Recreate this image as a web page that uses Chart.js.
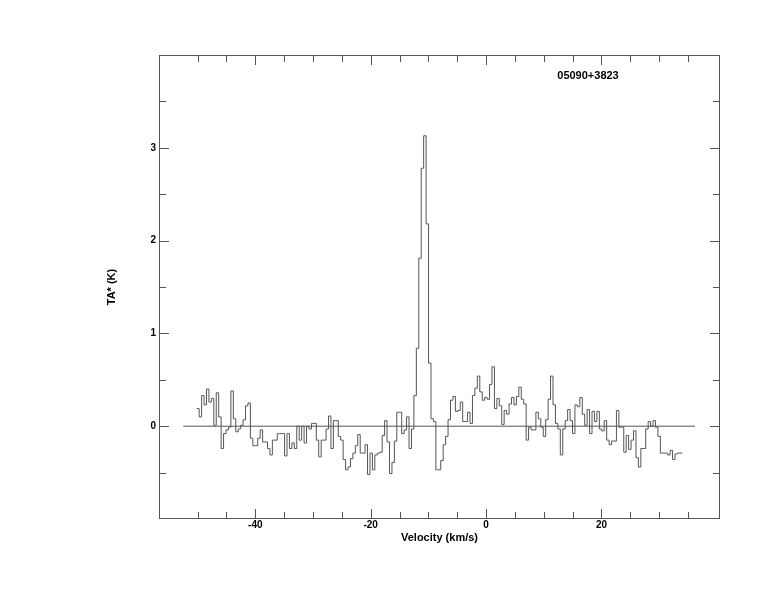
<!DOCTYPE html>
<html>
<head>
<meta charset="utf-8">
<script src="https://cdn.jsdelivr.net/npm/chart.js@4.4.1/dist/chart.umd.min.js"></script>
<style>
    html, body { margin: 0; padding: 0; background: #fff; }
    #wrap { width: 774px; height: 612px; position: relative; }
</style>
</head>
<body>
<div id="wrap"><canvas id="myChart_spec"></canvas></div>
<script>
var sourceName = "05090+3823";
var xTitle = "Velocity (km/s)";
var yTitle = "TA* (K)";

// channel grid, km/s (left edge of first channel, channel width)
var velStart = -50.16;
var velStep = 0.423;

// TA* per channel, K
var taValues = [
    0.19, 0.10, 0.33, 0.23, 0.40, 0.26, 0.30, 0.01, 0.36, 0.10,
    -0.24, -0.08, -0.04, -0.01, 0.38, 0.08, -0.06, -0.03, 0.01, 0.07,
    0.22, 0.25, -0.13, -0.21, -0.21, -0.13, -0.04, -0.17, -0.17, -0.24,
    -0.31, -0.15, -0.15, -0.08, -0.08, -0.08, -0.32, -0.08, -0.24, -0.18,
    -0.24, 0.00, -0.15, 0.00, -0.18, 0.00, -0.03, 0.03, 0.03, -0.15,
    -0.33, -0.15, -0.15, -0.03, 0.11, -0.24, 0.06, 0.06, -0.11, -0.15,
    -0.36, -0.47, -0.44, -0.35, -0.29, -0.21, -0.09, -0.29, -0.29, -0.20,
    -0.52, -0.29, -0.47, -0.31, -0.29, -0.28, -0.10, 0.06, -0.17, -0.51,
    -0.39, -0.16, 0.15, 0.15, -0.08, -0.04, 0.10, -0.24, -0.03, 0.33,
    0.84, 1.81, 2.78, 3.13, 2.18, 0.68, 0.08, 0.05, -0.47, -0.47,
    -0.37, -0.20, -0.11, 0.07, 0.28, 0.32, 0.16, 0.17, 0.26, 0.05,
    0.05, 0.15, 0.03, 0.33, 0.41, 0.54, 0.37, 0.28, 0.31, 0.29,
    0.45, 0.64, 0.19, 0.30, 0.22, 0.02, 0.17, 0.13, 0.24, 0.31,
    0.23, 0.32, 0.42, 0.29, 0.24, -0.15, -0.01, -0.04, -0.04, 0.15,
    0.08, -0.01, -0.11, 0.07, 0.29, 0.54, 0.23, 0.03, -0.03, -0.31,
    -0.03, 0.06, 0.18, 0.06, -0.08, 0.23, 0.21, 0.31, 0.13, 0.01,
    0.18, -0.08, 0.16, 0.05, 0.16, -0.03, -0.05, 0.06, -0.15, -0.20,
    -0.16, -0.16, 0.17, -0.01, -0.01, -0.28, -0.10, -0.25, -0.15, -0.05,
    -0.34, -0.44, -0.24, -0.24, -0.03, 0.05, 0.00, 0.06, -0.01, -0.11,
    -0.29, -0.29, -0.29, -0.31, -0.26, -0.36, -0.30, -0.29, -0.29
];

// zero baseline
var baseX = [-52.5, 36.2];
var baseY = [0, 0];

// axes
var xMin = -56.7, xMax = 40.55;
var yMin = -1, yMax = 4;
var xTickFirst = -50, xTickLast = 35, xTickStep = 5;
var yTickFirst = -0.5, yTickLast = 3.5, yTickStep = 0.5;
var xLabelTicks = [-40, -20, 0, 20];
var yLabelTicks = [0, 1, 2, 3];

var lineColor = "#555555";
var fontFamily = "'Liberation Sans', Arial, Helvetica, sans-serif";

var specPoints = taValues.map(function (t, i) {
    return { x: velStart + i * velStep, y: t };
});
// close the last channel
specPoints.push({ x: velStart + taValues.length * velStep, y: taValues[taValues.length - 1] });

var basePoints = baseX.map(function (x, i) {
    return { x: x, y: baseY[i] };
});

var frameTicks = {
    id: "frameTicks",
    afterDraw: function (chart) {
        var ctx = chart.ctx;
        var a = chart.chartArea;
        var xs = chart.scales.x;
        var ys = chart.scales.y;
        ctx.save();
        ctx.strokeStyle = lineColor;
        ctx.lineWidth = 1;
        ctx.strokeRect(a.left + 0.5, a.top + 0.5, a.right - a.left - 1, a.bottom - a.top - 1);
        ctx.beginPath();
        xs.ticks.forEach(function (t) {
            var px = Math.round(xs.getPixelForValue(t.value)) + 0.5;
            var len = xLabelTicks.indexOf(t.value) >= 0 ? 10 : 7;
            ctx.moveTo(px, a.bottom);
            ctx.lineTo(px, a.bottom - len);
            ctx.moveTo(px, a.top);
            ctx.lineTo(px, a.top + len);
        });
        ys.ticks.forEach(function (t) {
            var py = Math.round(ys.getPixelForValue(t.value)) + 0.5;
            var len = yLabelTicks.indexOf(t.value) >= 0 ? 10 : 7;
            ctx.moveTo(a.left, py);
            ctx.lineTo(a.left + len, py);
            ctx.moveTo(a.right, py);
            ctx.lineTo(a.right - len, py);
        });
        ctx.stroke();

        ctx.fillStyle = "#000";
        ctx.font = "bold 11px " + fontFamily;
        ctx.textAlign = "center";
        ctx.textBaseline = "middle";
        ctx.fillText(sourceName, a.left + 429, a.top + 21);
        ctx.restore();
    }
};

new Chart("myChart_spec", {
    type: "line",
    data: {
        datasets: [
            {
                data: specPoints,
                borderColor: lineColor,
                borderWidth: 1,
                pointRadius: 0,
                stepped: true,
                fill: false,
            },
            {
                data: basePoints,
                borderColor: lineColor,
                borderWidth: 1,
                pointRadius: 0,
                fill: false,
            },
        ],
    },
    options: {
        responsive: true,
        maintainAspectRatio: false,
        animation: false,
        layout: {
            padding: { top: 55, right: 54, left: 0, bottom: 0 },
        },
        plugins: {
            legend: { display: false },
            tooltip: { enabled: false },
        },
        scales: {
            x: {
                type: "linear",
                min: xMin,
                max: xMax,
                grid: { display: false, drawTicks: false },
                border: { display: false },
                ticks: {
                    stepSize: xTickStep,
                    includeBounds: false,
                    autoSkip: false,
                    maxRotation: 0,
                    padding: 0,
                    color: "#000",
                    font: { family: fontFamily, size: 10, weight: "bold" },
                    callback: function (v) {
                        return xLabelTicks.indexOf(v) >= 0 ? String(v) : "";
                    },
                },
                afterBuildTicks: function (s) {
                    s.ticks = s.ticks.filter(function (t) {
                        return t.value >= xTickFirst && t.value <= xTickLast;
                    });
                },
                afterFit: function (s) { s.height = 93; },
                title: {
                    display: true,
                    text: xTitle,
                    color: "#000",
                    font: { family: fontFamily, size: 11, weight: "bold" },
                    padding: { top: 0, bottom: 67 },
                },
            },
            y: {
                type: "linear",
                min: yMin,
                max: yMax,
                grid: { display: false, drawTicks: false },
                border: { display: false },
                ticks: {
                    stepSize: yTickStep,
                    includeBounds: false,
                    autoSkip: false,
                    padding: 3,
                    color: "#000",
                    font: { family: fontFamily, size: 10, weight: "bold" },
                    callback: function (v) {
                        return yLabelTicks.indexOf(v) >= 0 ? String(v) : "";
                    },
                },
                afterBuildTicks: function (s) {
                    s.ticks = s.ticks.filter(function (t) {
                        return t.value >= yTickFirst && t.value <= yTickLast;
                    });
                },
                afterFit: function (s) { s.width = 159; },
                title: {
                    display: true,
                    text: yTitle,
                    color: "#000",
                    font: { family: fontFamily, size: 11, weight: "bold" },
                    padding: { top: 105, bottom: 0 },
                },
            },
        },
    },
    plugins: [frameTicks],
});
</script>
</body>
</html>
